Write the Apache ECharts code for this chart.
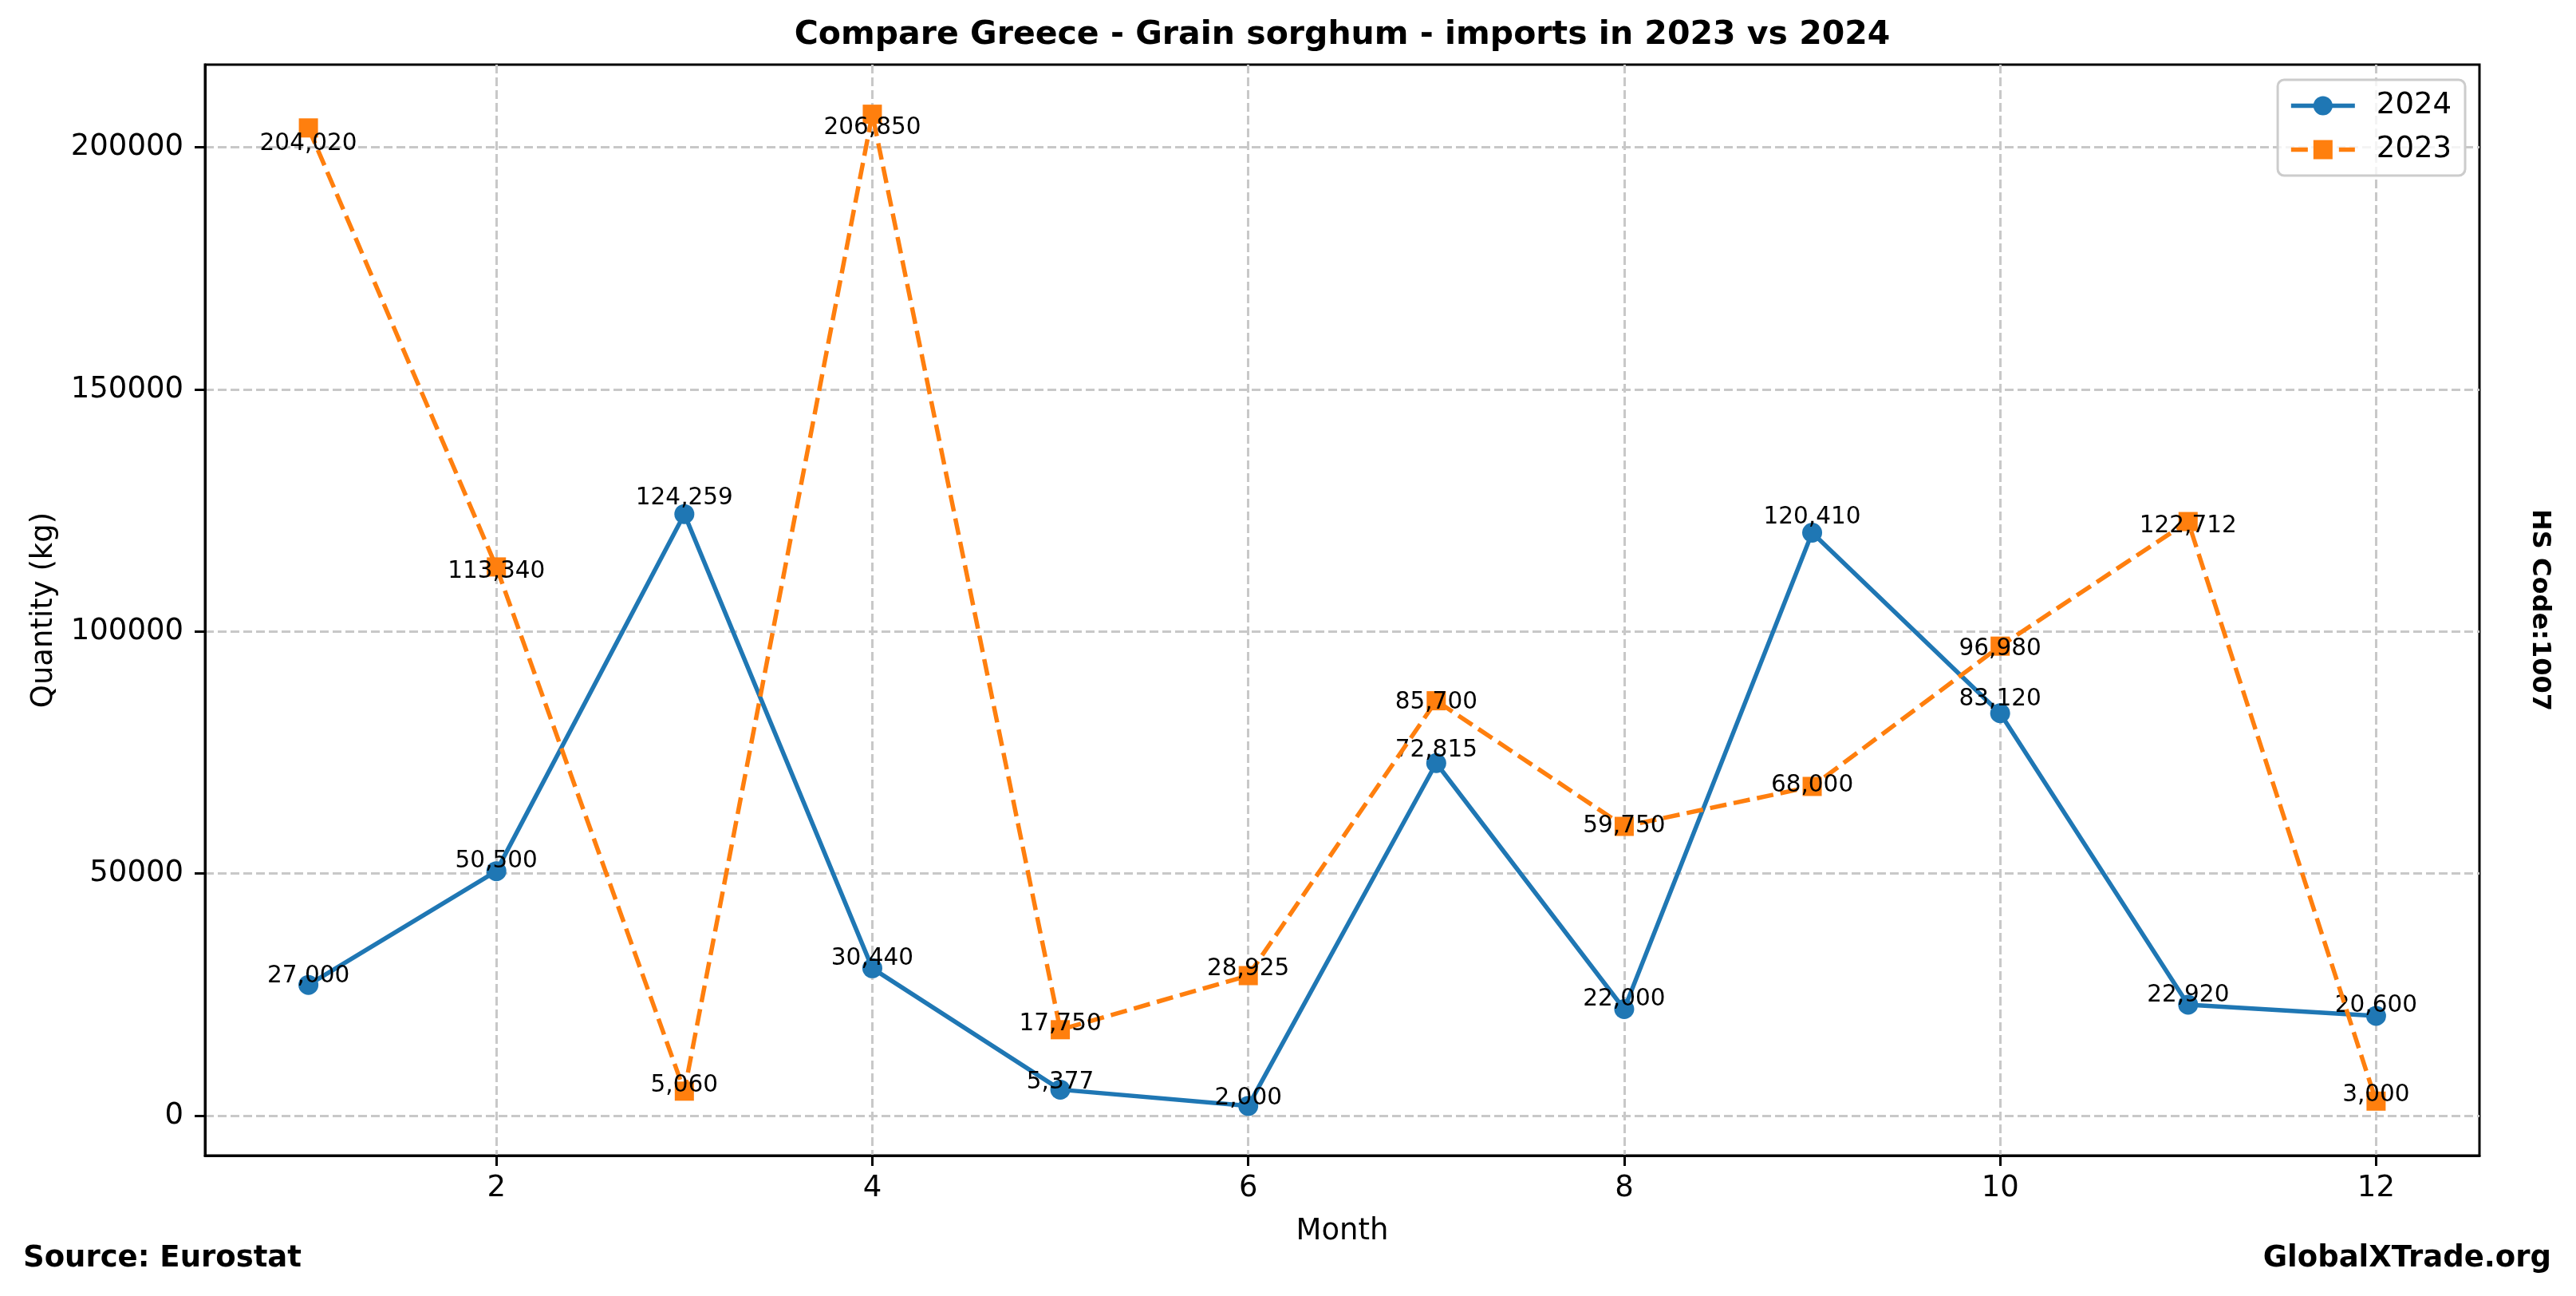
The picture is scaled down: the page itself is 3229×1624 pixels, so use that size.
<!DOCTYPE html>
<html>
<head>
<meta charset="utf-8">
<script src="https://cdn.jsdelivr.net/npm/echarts@6/dist/echarts.min.js"></script>
<style>
html,body{margin:0;padding:0;background:#ffffff;}
#chart{width:3229px;height:1624px;}
</style>
</head>
<body>
<div id="chart"></div>
<script>
// ---- data ----
const months = [1, 2, 3, 4, 5, 6, 7, 8, 9, 10, 11, 12];
const values2024 = [27000, 50500, 124259, 30440, 5377, 2000, 72815, 22000, 120410, 83120, 22920, 20600];
const values2023 = [204020, 113340, 5060, 206850, 17750, 28925, 85700, 59750, 68000, 96980, 122712, 3000];
const xTickValues = [2, 4, 6, 8, 10, 12];
const yTickValues = [0, 50000, 100000, 150000, 200000];
const seriesNames = ['2024', '2023'];

// ---- label placement (style): baseline shift in px relative to the point ----
const labelShift2024 = [-4, -5, -13, -5, -2, -3, -9, -5, -12, -10, -5, -6];
const labelShift2023 = [27, 13, 0, 24, 0, -1, 9, 7, 6, 11, 13, 0];

const FONT = 'DejaVu Sans';
const BLUE = '#1f77b4';
const ORANGE = '#ff7f0e';
const LABEL_SIZE = 29.5;
const BASE_TO_MID = 7; // canvas middle -> baseline distance for label font

// axis ranges with matplotlib-like 5% margins
const allVals = values2024.concat(values2023);
const yMinD = Math.min.apply(null, allVals), yMaxD = Math.max.apply(null, allVals);
const yPad = (yMaxD - yMinD) * 0.05;
const xMinD = Math.min.apply(null, months), xMaxD = Math.max.apply(null, months);
const xPad = (xMaxD - xMinD) * 0.05;

function fmt(v) { return v.toLocaleString('en-US'); }

function buildData(vals) {
  return months.map(function (m, i) { return [m, vals[i]]; });
}

function shiftLayout(shifts) {
  return function (p) {
    return { dy: shifts[p.dataIndex] - BASE_TO_MID, hideOverlap: false };
  };
}

const chart = echarts.init(document.getElementById('chart'), null, { renderer: 'canvas' });

const gridL = 257, gridT = 81, gridR = 3108, gridB = 1448;

const labelStyle = {
  show: true, position: 'inside', align: 'center', verticalAlign: 'middle',
  fontFamily: FONT, fontSize: LABEL_SIZE, color: '#000000',
  formatter: function (p) { return fmt(p.value[1]); }
};

const option = {
  backgroundColor: '#ffffff',
  animation: false,
  textStyle: { fontFamily: FONT },
  grid: {
    left: gridL, top: gridT, width: gridR - gridL, height: gridB - gridT,
    show: true, borderColor: '#000000', borderWidth: 3, backgroundColor: 'transparent',
    containLabel: false
  },
  legend: {
    orient: 'vertical',
    right: 3229 - 3090,
    top: 100,
    itemWidth: 80,
    itemHeight: 30,
    itemGap: 18,
    padding: [14, 17, 14, 14],
    borderColor: '#cccccc',
    borderWidth: 3,
    borderRadius: 8,
    backgroundColor: 'rgba(255,255,255,0.8)',
    lineStyle: { width: 5.5 },
    textStyle: { fontFamily: FONT, fontSize: 37, color: '#000000', padding: [0, 0, 0, 22] },
    data: seriesNames
  },
  xAxis: {
    type: 'value',
    min: xMinD - xPad,
    max: xMaxD + xPad,
    name: 'Month',
    nameLocation: 'middle',
    nameGap: 77,
    nameTextStyle: { fontFamily: FONT, fontSize: 37, color: '#000000', verticalAlign: 'top' },
    axisLine: { show: true, onZero: false, lineStyle: { color: '#000000', width: 3 } },
    axisTick: { show: true, length: 13, inside: false, lineStyle: { color: '#000000', width: 3 }, customValues: xTickValues },
    axisLabel: { show: true, margin: 23, fontFamily: FONT, fontSize: 37, color: '#000000', customValues: xTickValues, formatter: function (v) { return String(v); } },
    splitLine: { show: true, lineStyle: { color: '#c8c8c8', width: 3, type: [11, 5] } },
    minorTick: { show: false }
  },
  yAxis: {
    type: 'value',
    min: yMinD - yPad,
    max: yMaxD + yPad,
    name: 'Quantity (kg)',
    nameLocation: 'middle',
    nameRotate: 90,
    nameGap: 183,
    nameTextStyle: { fontFamily: FONT, fontSize: 37, color: '#000000' },
    axisLine: { show: true, onZero: false, lineStyle: { color: '#000000', width: 3 } },
    axisTick: { show: true, length: 13, inside: false, lineStyle: { color: '#000000', width: 3 }, customValues: yTickValues },
    axisLabel: { show: true, margin: 27, fontFamily: FONT, fontSize: 37, color: '#000000', customValues: yTickValues, formatter: function (v) { return String(v); } },
    splitLine: { show: true, lineStyle: { color: '#c8c8c8', width: 3, type: [11, 5] } }
  },
  series: [
    {
      name: seriesNames[0],
      type: 'line',
      data: buildData(values2024),
      symbol: 'circle',
      symbolSize: 25,
      lineStyle: { color: BLUE, width: 5.5, type: 'solid' },
      itemStyle: { color: BLUE, borderWidth: 0 },
      label: labelStyle,
      labelLayout: shiftLayout(labelShift2024),
      emphasis: { disabled: true },
      z: 2
    },
    {
      name: seriesNames[1],
      type: 'line',
      data: buildData(values2023),
      symbol: 'rect',
      symbolSize: 24,
      lineStyle: { color: ORANGE, width: 5.5, type: [21, 9] },
      itemStyle: { color: ORANGE, borderWidth: 0 },
      label: labelStyle,
      labelLayout: shiftLayout(labelShift2023),
      emphasis: { disabled: true },
      z: 3
    }
  ],
  graphic: [
    {
      type: 'text', x: (gridL + gridR) / 2, y: 44, silent: true,
      style: { text: 'Compare Greece - Grain sorghum - imports in 2023 vs 2024', fontFamily: FONT, fontSize: 41, fontWeight: 'bold', fill: '#000000', align: 'center', verticalAlign: 'middle' }
    },
    {
      type: 'text', x: 29, y: 1577, silent: true,
      style: { text: 'Source: Eurostat', fontFamily: FONT, fontSize: 37, fontWeight: 'bold', fill: '#000000', align: 'left', verticalAlign: 'middle' }
    },
    {
      type: 'text', x: 3198, y: 1577, silent: true,
      style: { text: 'GlobalXTrade.org', fontFamily: FONT, fontSize: 37, fontWeight: 'bold', fill: '#000000', align: 'right', verticalAlign: 'middle' }
    },
    {
      type: 'text', x: 3183, y: (gridT + gridB) / 2, rotation: -Math.PI / 2, silent: true,
      style: { text: 'HS Code:1007', fontFamily: FONT, fontSize: 32, fontWeight: 'bold', fill: '#000000', align: 'center', verticalAlign: 'middle' }
    }
  ]
};

chart.setOption(option);
</script>
</body>
</html>
